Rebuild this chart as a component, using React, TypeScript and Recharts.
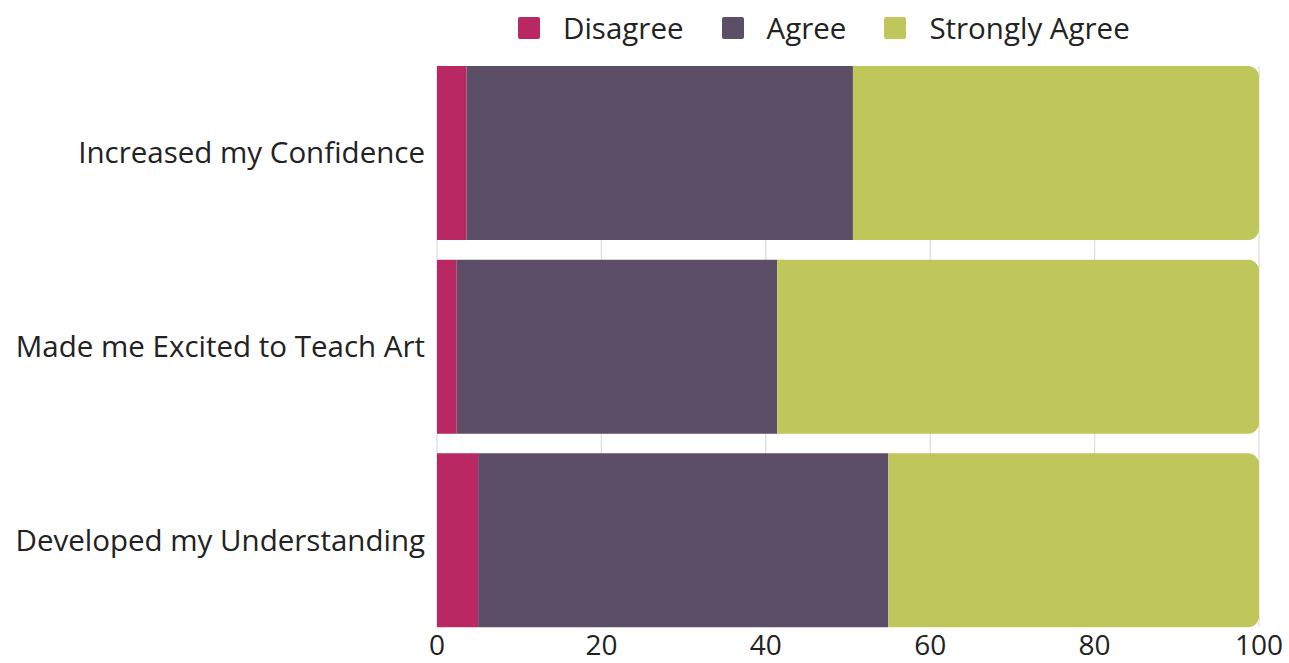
import React from "react";
import { BarChart, Bar, XAxis, YAxis, CartesianGrid, Legend } from "recharts";

const categories = ["Increased my Confidence", "Made me Excited to Teach Art", "Developed my Understanding"];
const disagree = [3.6, 2.4, 5.0];
const agree = [47.0, 39.0, 49.9];
const stronglyAgree = [49.4, 58.6, 45.1];
const xTicks = [0, 20, 40, 60, 80, 100];

const seriesNames = ["Disagree", "Agree", "Strongly Agree"];
const seriesColors = ["#B92862", "#5D4E68", "#BFC75A"];

const data = categories.map((c, i) => ({
  name: c,
  Disagree: disagree[i],
  Agree: agree[i],
  "Strongly Agree": stronglyAgree[i],
}));

const FONT = "'Open Sans', 'Noto Sans', sans-serif";

const LegendContent = () => (
  <div style={{ display: "flex", alignItems: "center", fontFamily: FONT, fontSize: 29.5, lineHeight: "40px", color: "#222", whiteSpace: "nowrap" }}>
    {seriesNames.map((n, i) => (
      <div key={n} style={{ display: "flex", alignItems: "center", marginRight: i < seriesNames.length - 1 ? 38 : 0 }}>
        <div style={{ width: 22, height: 22, background: seriesColors[i], borderRadius: 2, marginRight: 23 }} />
        <span>{n}</span>
      </div>
    ))}
  </div>
);

export default function App() {
  return (
    <div style={{ position: "absolute", left: 0, top: 0, background: "#fff" }}>
      <BarChart
        width={1289}
        height={663}
        data={data}
        layout="vertical"
        margin={{ top: 66, right: 30, bottom: 6, left: 0 }}
        barCategoryGap={0}
      >
        <CartesianGrid horizontal={false} vertical={true} stroke="#dddddd" strokeWidth={1.2} />
        <XAxis
          type="number"
          domain={[0, 100]}
          ticks={xTicks}
          axisLine={false}
          tickLine={false}
          tickSize={0}
          tickMargin={8}
          height={30}
          interval={0}
          tick={{ fontFamily: FONT, fontSize: 28, fill: "#222" }}
        />
        <YAxis
          type="category"
          dataKey="name"
          width={437}
          axisLine={false}
          tickLine={false}
          tickSize={0}
          tickMargin={12}
          padding={{ top: -10, bottom: -10 }}
          tick={{ fontFamily: FONT, fontSize: 29.5, fill: "#222" }}
        />
        <Legend
          layout="horizontal"
          verticalAlign="middle"
          align="center"
          wrapperStyle={{ top: 8, left: 518, width: 720 }}
          content={<LegendContent />}
        />
        <Bar dataKey="Disagree" stackId="a" fill={seriesColors[0]} barSize={174} isAnimationActive={false} />
        <Bar dataKey="Agree" stackId="a" fill={seriesColors[1]} barSize={174} isAnimationActive={false} />
        <Bar dataKey="Strongly Agree" stackId="a" fill={seriesColors[2]} barSize={174} radius={[0, 11, 11, 0]} isAnimationActive={false} />
      </BarChart>
    </div>
  );
}
